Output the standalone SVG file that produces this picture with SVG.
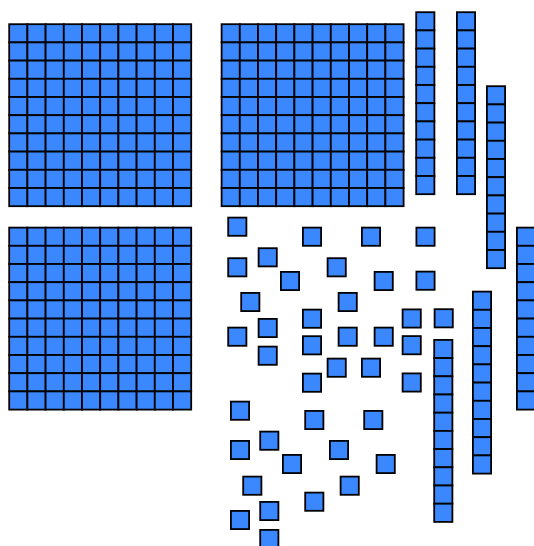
<svg xmlns="http://www.w3.org/2000/svg" xmlns:xlink="http://www.w3.org/1999/xlink" width="534" height="546" viewBox="0 0 534 546">
<style>
.c{fill:#3b87fd;stroke:#000;stroke-width:1.8}
</style>
<defs>
<rect id="u" class="c" width="18.2" height="18.2"/>
<g id="rod">
<use href="#u" y="0"/><use href="#u" y="18.2"/><use href="#u" y="36.4"/><use href="#u" y="54.6"/><use href="#u" y="72.8"/>
<use href="#u" y="91"/><use href="#u" y="109.2"/><use href="#u" y="127.4"/><use href="#u" y="145.6"/><use href="#u" y="163.8"/>
</g>
<g id="flat">
<use href="#rod" x="0"/><use href="#rod" x="18.2"/><use href="#rod" x="36.4"/><use href="#rod" x="54.6"/><use href="#rod" x="72.8"/>
<use href="#rod" x="91"/><use href="#rod" x="109.2"/><use href="#rod" x="127.4"/><use href="#rod" x="145.6"/><use href="#rod" x="163.8"/>
</g>
</defs>
<rect width="534" height="546" fill="#fff"/>
<g id="hundreds">
<g id="hundred1"><use href="#flat" x="9.2" y="24.2"/></g>
<g id="hundred2"><use href="#flat" x="221.6" y="24.2"/></g>
<g id="hundred3"><use href="#flat" x="9.2" y="227.6"/></g>
</g>
<g id="tens">
<g id="ten1"><use href="#rod" x="416.2" y="12.2"/></g>
<g id="ten2"><use href="#rod" x="456.9" y="12.2"/></g>
<g id="ten3"><use href="#rod" x="486.9" y="86.2"/></g>
<g id="ten4"><use href="#rod" x="516.9" y="227.6"/></g>
<g id="ten5"><use href="#rod" x="472.9" y="291.6"/></g>
<g id="ten6"><use href="#rod" x="434.2" y="339.9"/></g>
</g>
<g id="ones">
<g id="one1"><use href="#u" x="228.2" y="217.6"/></g>
<g id="one2"><use href="#u" x="302.9" y="227.6"/></g>
<g id="one3"><use href="#u" x="361.9" y="227.6"/></g>
<g id="one4"><use href="#u" x="416.4" y="227.6"/></g>
<g id="one5"><use href="#u" x="258.6" y="248.2"/></g>
<g id="one6"><use href="#u" x="228.2" y="258.2"/></g>
<g id="one7"><use href="#u" x="327.6" y="258.2"/></g>
<g id="one8"><use href="#u" x="416.4" y="271.6"/></g>
<g id="one9"><use href="#u" x="280.9" y="271.9"/></g>
<g id="one10"><use href="#u" x="374.6" y="271.9"/></g>
<g id="one11"><use href="#u" x="241.2" y="292.9"/></g>
<g id="one12"><use href="#u" x="338.6" y="292.9"/></g>
<g id="one13"><use href="#u" x="302.9" y="309.6"/></g>
<g id="one14"><use href="#u" x="402.6" y="309.4"/></g>
<g id="one15"><use href="#u" x="434.6" y="309.2"/></g>
<g id="one16"><use href="#u" x="258.6" y="318.9"/></g>
<g id="one17"><use href="#u" x="228.2" y="327.6"/></g>
<g id="one18"><use href="#u" x="338.6" y="327.6"/></g>
<g id="one19"><use href="#u" x="374.6" y="327.6"/></g>
<g id="one20"><use href="#u" x="302.9" y="336.2"/></g>
<g id="one21"><use href="#u" x="402.6" y="336.1"/></g>
<g id="one22"><use href="#u" x="258.6" y="346.6"/></g>
<g id="one23"><use href="#u" x="327.6" y="358.6"/></g>
<g id="one24"><use href="#u" x="361.9" y="358.6"/></g>
<g id="one25"><use href="#u" x="302.9" y="373.6"/></g>
<g id="one26"><use href="#u" x="402.6" y="373.4"/></g>
<g id="one27"><use href="#u" x="230.9" y="401.6"/></g>
<g id="one28"><use href="#u" x="305.2" y="410.9"/></g>
<g id="one29"><use href="#u" x="364.2" y="410.9"/></g>
<g id="one30"><use href="#u" x="260.2" y="431.6"/></g>
<g id="one31"><use href="#u" x="230.9" y="440.9"/></g>
<g id="one32"><use href="#u" x="329.9" y="440.9"/></g>
<g id="one33"><use href="#u" x="282.9" y="454.9"/></g>
<g id="one34"><use href="#u" x="376.6" y="454.9"/></g>
<g id="one35"><use href="#u" x="243.2" y="476.6"/></g>
<g id="one36"><use href="#u" x="340.6" y="476.6"/></g>
<g id="one37"><use href="#u" x="305.2" y="492.6"/></g>
<g id="one38"><use href="#u" x="260.2" y="501.9"/></g>
<g id="one39"><use href="#u" x="230.9" y="510.9"/></g>
<g id="one40"><use href="#u" x="260.2" y="529.9"/></g>
</g>
</svg>
